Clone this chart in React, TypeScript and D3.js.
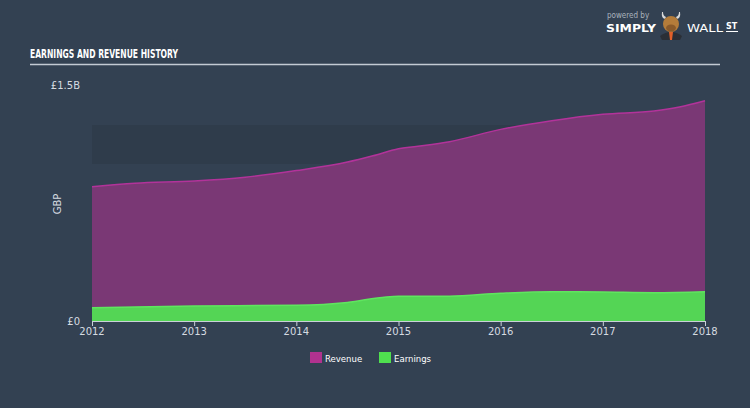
import { useEffect, useRef } from 'react';
import * as d3 from 'd3';

const W = 750;
const H = 408;

const revenueYears = [2012, 2012.42, 2013, 2013.5, 2014, 2014.5, 2014.75, 2015, 2015.25, 2015.5, 2016, 2016.5, 2017, 2017.5, 2017.75, 2018];
const revenueValues = [0.854, 0.875, 0.89, 0.914, 0.956, 1.01, 1.05, 1.095, 1.115, 1.14, 1.218, 1.273, 1.314, 1.335, 1.36, 1.4];

const earningsYears = [2012, 2013, 2014, 2014.5, 2014.88, 2015, 2015.5, 2016, 2016.5, 2017, 2017.5, 2018];
const earningsValues = [0.085, 0.095, 0.1, 0.118, 0.153, 0.157, 0.158, 0.176, 0.186, 0.184, 0.18, 0.186];

const xTicks = [2012, 2013, 2014, 2015, 2016, 2017, 2018];
const yTicks = [0, 1.5];
const yTickLabels = ['£0', '£1.5B'];

const legendItems = [
  { name: 'Revenue', color: '#b1328f' },
  { name: 'Earnings', color: '#4fe04f' },
];

const BG = '#334152';
const TEXT = '#d6dbe1';

export default function App() {
  const svgRef = useRef<SVGSVGElement>(null);

  useEffect(() => {
    if (!svgRef.current) return;
    d3.select(svgRef.current).selectAll('*').remove();
    const svg = d3.select(svgRef.current).attr('width', W).attr('height', H);

    svg.append('rect').attr('width', W).attr('height', H).attr('fill', BG);

    const x = d3.scaleLinear().domain([2012, 2018]).range([92, 705]);
    const y = d3.scaleLinear().domain([0, 1.5]).range([321, 85]);

    // shaded band
    svg.append('rect')
      .attr('x', x(2012))
      .attr('y', 125)
      .attr('width', x(2018) - x(2012))
      .attr('height', 39)
      .attr('fill', '#2f3c4b');

    // title
    svg.append('text')
      .attr('x', 30)
      .attr('y', 58)
      .attr('fill', '#ffffff')
      .attr('font-family', '"DejaVu Sans Condensed", "DejaVu Sans", sans-serif')
      .attr('font-stretch', 'condensed')
      .attr('font-weight', 'bold')
      .attr('font-size', 12)
      .attr('textLength', 148)
      .attr('lengthAdjust', 'spacingAndGlyphs')
      .text('EARNINGS AND REVENUE HISTORY');

    svg.append('line')
      .attr('x1', 30).attr('x2', 720)
      .attr('y1', 64.5).attr('y2', 64.5)
      .attr('stroke', '#c3cad3')
      .attr('stroke-width', 1.5);

    const revData = revenueYears.map((yr, i) => ({ yr, v: revenueValues[i] }));
    const earnData = earningsYears.map((yr, i) => ({ yr, v: earningsValues[i] }));

    const area = d3.area<{ yr: number; v: number }>()
      .x(d => x(d.yr))
      .y0(y(0))
      .y1(d => y(d.v))
      .curve(d3.curveMonotoneX);
    const line = d3.line<{ yr: number; v: number }>()
      .x(d => x(d.yr))
      .y(d => y(d.v))
      .curve(d3.curveMonotoneX);

    svg.append('path').attr('d', area(revData)).attr('fill', '#7a3875');
    svg.append('path').attr('d', line(revData)).attr('fill', 'none').attr('stroke', '#b2339a').attr('stroke-width', 1.5);

    svg.append('path').attr('d', area(earnData)).attr('fill', '#54d555');
    svg.append('path').attr('d', line(earnData)).attr('fill', 'none').attr('stroke', '#5fe65f').attr('stroke-width', 1.5);

    // x axis
    const xAxis = svg.append('g');
    xAxis.append('line')
      .attr('x1', x(2012)).attr('x2', x(2018))
      .attr('y1', 321.5).attr('y2', 321.5)
      .attr('stroke', '#c9d0d8').attr('stroke-width', 1);
    xTicks.forEach(t => {
      xAxis.append('line')
        .attr('x1', x(t) + 0.5).attr('x2', x(t) + 0.5)
        .attr('y1', 321).attr('y2', 326)
        .attr('stroke', '#c9d0d8');
      xAxis.append('text')
        .attr('x', x(t))
        .attr('y', 335)
        .attr('text-anchor', 'middle')
        .attr('fill', TEXT)
        .attr('font-family', '"DejaVu Sans", sans-serif')
        .attr('font-size', 10)
        .text(String(t));
    });

    // y labels
    yTicks.forEach((t, i) => {
      svg.append('text')
        .attr('x', 80)
        .attr('y', y(t) + 3.5)
        .attr('text-anchor', 'end')
        .attr('fill', TEXT)
        .attr('font-family', '"DejaVu Sans", sans-serif')
        .attr('font-size', 10)
        .text(yTickLabels[i]);
    });

    svg.append('text')
      .attr('transform', 'translate(61,204) rotate(-90)')
      .attr('text-anchor', 'middle')
      .attr('fill', TEXT)
      .attr('font-family', '"DejaVu Sans", sans-serif')
      .attr('font-size', 10)
      .text('GBP');

    // legend
    const legendX = [310, 379];
    legendItems.forEach((item, i) => {
      const g = svg.append('g').attr('transform', `translate(${legendX[i]}, 352)`);
      g.append('rect').attr('width', 12).attr('height', 11).attr('fill', item.color);
      g.append('text')
        .attr('x', 15)
        .attr('y', 9.5)
        .attr('fill', '#ffffff')
        .attr('font-family', '"DejaVu Sans Condensed", "DejaVu Sans", sans-serif')
        .attr('font-size', 9.5)
        .text(item.name);
    });

    // logo
    const logo = svg.append('g');
    logo.append('text')
      .attr('x', 607).attr('y', 18)
      .attr('fill', '#aab3bd')
      .attr('font-family', '"DejaVu Sans Condensed", sans-serif')
      .attr('font-size', 8)
      .text('powered by');
    logo.append('text')
      .attr('x', 606).attr('y', 32)
      .attr('fill', '#ffffff')
      .attr('font-family', '"DejaVu Sans", sans-serif')
      .attr('font-weight', 'bold')
      .attr('font-size', 11)
      .attr('textLength', 50)
      .attr('lengthAdjust', 'spacingAndGlyphs')
      .text('SIMPLY');
    // bull mascot
    logo.append('path')
      .attr('d', 'M660,36 Q671,28 682,36 L680,40 L662,40 Z')
      .attr('fill', '#2a2f36');
    logo.append('path').attr('d', 'M662,12 Q661,18 665,19 L666,17 Q663,16 663,12 Z').attr('fill', '#d9d9d9');
    logo.append('path').attr('d', 'M680,12 Q681,18 677,19 L676,17 Q679,16 679,12 Z').attr('fill', '#d9d9d9');
    logo.append('ellipse').attr('cx', 671).attr('cy', 24).attr('rx', 8).attr('ry', 8).attr('fill', '#b47c3a');
    logo.append('ellipse').attr('cx', 671).attr('cy', 28).attr('rx', 5).attr('ry', 3.5).attr('fill', '#8a5a2a');
    logo.append('path').attr('d', 'M669,32 L673,32 L672,40 L670,40 Z').attr('fill', '#e0602a');
    logo.append('text')
      .attr('x', 687).attr('y', 32)
      .attr('fill', '#ffffff')
      .attr('font-family', '"DejaVu Sans", sans-serif')
      .attr('font-size', 11)
      .attr('textLength', 36)
      .attr('lengthAdjust', 'spacingAndGlyphs')
      .text('WALL');
    logo.append('text')
      .attr('x', 726).attr('y', 29)
      .attr('fill', '#ffffff')
      .attr('font-family', '"DejaVu Sans", sans-serif')
      .attr('font-weight', 'bold')
      .attr('font-size', 8)
      .text('ST');
    logo.append('line')
      .attr('x1', 726).attr('x2', 738)
      .attr('y1', 31.5).attr('y2', 31.5)
      .attr('stroke', '#ffffff').attr('stroke-width', 1);
  }, []);

  return <svg ref={svgRef} style={{ position: 'absolute', left: 0, top: 0, display: 'block' }} />;
}
